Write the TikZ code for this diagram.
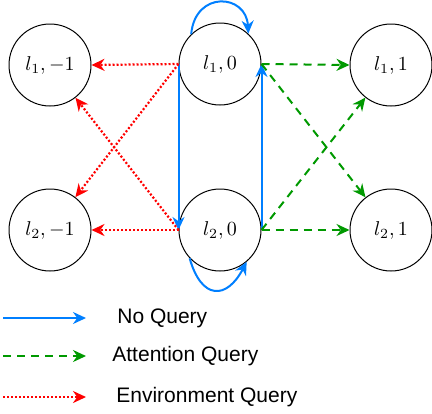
\documentclass[tikz,border=0pt]{standalone}
\usepackage{fontspec}
\setsansfont{Liberation Sans}
\usetikzlibrary{arrows.meta}
\definecolor{noQ}{RGB}{0,127,255}
\definecolor{attnQ}{RGB}{0,153,0}
\definecolor{envQ}{RGB}{255,0,0}
\tikzset{state/.style={draw=black,line width=0.5pt,circle,minimum size=41pt,inner sep=0pt},
 noquery/.style={draw=noQ,line width=1pt,-{Stealth[length=6.5pt,width=6pt]}},
 attnquery/.style={draw=attnQ,line width=1pt,dash pattern=on 4pt off 3pt,-{Stealth[length=6.5pt,width=6pt,fill=attnQ]}},
 envquery/.style={draw=envQ,line width=1.1pt,dash pattern=on 1pt off 1pt,-{Stealth[length=6.5pt,width=6pt,fill=envQ]}},
 legend/.style={anchor=west,inner sep=0pt,font=\sffamily\fontsize{10.5}{12}\selectfont},
 every picture/.style={line join=round}}

\begin{document}
\begin{tikzpicture}[x=0.5pt,y=-0.5pt]
\useasboundingbox (0,0) rectangle (432,413);
% states
\node[state] (l1m1) at (50,65) {$l_1,-1$};
\node[state] (l10) at (220,64) {$l_1,0$};
\node[state] (l11) at (391,65) {$l_1,1$};
\node[state] (l2m1) at (50,230) {$l_2,-1$};
\node[state] (l20) at (220,230) {$l_2,0$};
\node[state] (l21) at (391,230) {$l_2,1$};
% no query
\draw[noquery] (l10.134) .. controls +(4,-44) and +(-2,-40) .. (l10.47);
\draw[noquery] (l20.223) .. controls +(12,42) and +(-20,38) .. (l20.-50);
\draw[noquery] (l10.west) -- (l20.west);
\draw[noquery] (l20.east) -- (l10.east);
% environment query
\draw[envquery] (l10.west) -- (l1m1.east);
\draw[envquery] (l10.west) -- (l2m1);
\draw[envquery] (l20.west) -- (l1m1);
\draw[envquery] (l20.west) -- (l2m1.east);
% attention query
\draw[attnquery] (l10.east) -- (l11.west);
\draw[attnquery] (l10.east) -- (l21);
\draw[attnquery] (l20.east) -- (l11);
\draw[attnquery] (l20.east) -- (l21.west);
% legend
\coordinate (nqA) at (3,318);
\coordinate (nqB) at (86,318);
\coordinate (aqA) at (3,356);
\coordinate (aqB) at (86,356);
\coordinate (eqA) at (3,397);
\coordinate (eqB) at (86,397);
\draw[noquery] (nqA) -- (nqB);
\draw[attnquery] (aqA) -- (aqB);
\draw[envquery] (eqA) -- (eqB);
\node[legend] (nqT) at (117,318) {No Query};
\node[legend] (aqT) at (112,356) {Attention Query};
\node[legend] (eqT) at (116,397) {Environment Query};
\end{tikzpicture}
\end{document}
